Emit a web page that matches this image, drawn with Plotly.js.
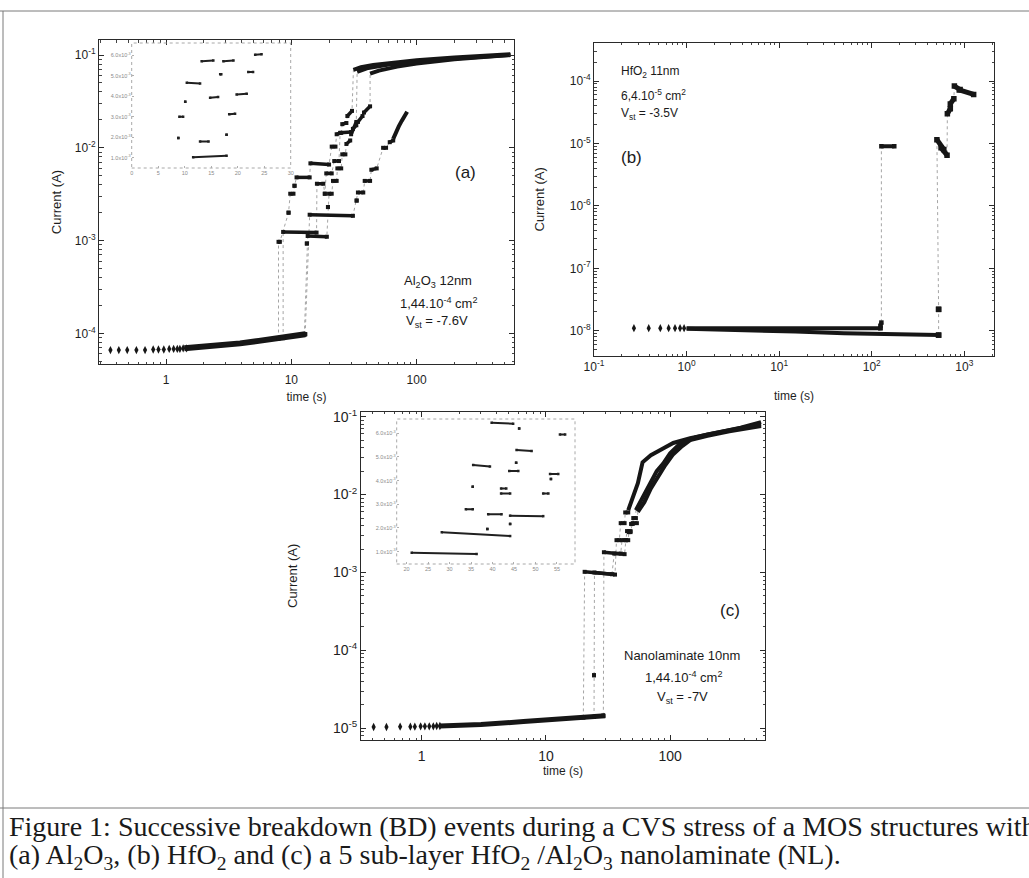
<!DOCTYPE html>
<html><head><meta charset="utf-8">
<script src="https://cdn.plot.ly/plotly-3.0.1.min.js"></script>
<style>html,body{margin:0;padding:0;background:#fff;}#chart{width:1029px;height:878px;}</style>
</head><body><div id="chart"></div>
<script>
// ---------------- Panel (a): Al2O3 12nm ----------------
const aBeadT = [0.36, 0.42, 0.49, 0.58, 0.68, 0.79, 0.87, 0.96, 1.06, 1.15, 1.23, 1.29, 1.37, 1.46];
const aBeadI = [6.6e-5, 6.6e-5, 6.6e-5, 6.6e-5, 6.6e-5, 6.7e-5, 6.7e-5, 6.7e-5, 6.8e-5, 6.8e-5, 6.8e-5, 6.8e-5, 6.9e-5, 6.9e-5];
const aBaseT = [1.4, 2.5, 3.9, 5.5, 7.2, 9.5, 12.9];
const aBaseI = [6.9e-5, 7.3e-5, 7.8e-5, 8.3e-5, 8.7e-5, 9.2e-5, 9.8e-5];
// curves: plateau start/end pairs
const a1T = [7.9,7.9, 7.9,8.1, 9.5,9.5, 9.8,10.4, 10.6,10.6, 11.0,14.0, 14.2,20.0, 21.0,22.5, 23.0,25.0, 25.5,27.5, 28.0,30.5];
const a1I = [8.8e-5,8.8e-5, 9.7e-4,9.7e-4, 2.0e-3,2.0e-3, 3.2e-3,3.2e-3, 3.9e-3,3.9e-3, 4.8e-3,4.8e-3, 6.8e-3,6.6e-3, 1.03e-2,1.03e-2, 1.4e-2,1.45e-2, 1.8e-2,1.85e-2, 2.2e-2,2.5e-2];
const a1TopT = [31.3, 36, 45, 60, 100, 200, 350, 560];
const a1TopI = [6.9e-2, 7.4e-2, 7.8e-2, 8.2e-2, 8.8e-2, 9.4e-2, 9.8e-2, 1.02e-1];
const a2T = [8.6,8.6, 8.6,15.9, 16.0,18.0, 18.5,18.5, 19.0,21.0, 22.0,24.0, 24.5,30.0, 31.0,33.0, 34.0,37.0, 38.0,42.5];
const a2I = [8.9e-5,8.9e-5, 1.24e-3,1.22e-3, 4.1e-3,4.1e-3, 3.2e-3,3.2e-3, 5.3e-3,5.3e-3, 7.2e-3,7.2e-3, 1.45e-2,1.48e-2, 1.6e-2,1.75e-2, 1.9e-2,2.2e-2, 2.4e-2,2.8e-2];
const a2TopT = [42.5, 50, 70, 100, 200, 350, 560];
const a2TopI = [6.3e-2, 6.8e-2, 7.5e-2, 8.1e-2, 9.0e-2, 9.6e-2, 1.0e-1];
const a3T = [12.7,12.7, 13.3,13.3, 13.5,19.2, 19.6,19.6, 20.0,21.0, 21.5,23.0, 23.3,25.0, 25.5,27.0, 27.5,29.5, 30.0,33.0];
const a3I = [9.7e-5,9.7e-5, 9.3e-4,9.3e-4, 1.12e-3,1.1e-3, 2.3e-3,2.3e-3, 3.2e-3,3.2e-3, 4.4e-3,4.4e-3, 6.0e-3,6.0e-3, 8.5e-3,8.5e-3, 1.1e-2,1.2e-2, 1.4e-2,1.9e-2];
const a3TopT = [33.5, 40, 60, 100, 200, 560];
const a3TopI = [6.6e-2, 7.2e-2, 7.9e-2, 8.5e-2, 9.2e-2, 1.0e-1];
const a4T = [12.9,12.9, 14.0,31.0, 33.2,33.2, 34.0,37.5, 38.5,42.5, 43.5,48.0, 54.0,57.0, 61.0,65.0];
const a4I = [9.8e-5,9.8e-5, 1.9e-3,1.85e-3, 2.7e-3,2.7e-3, 3.3e-3,3.3e-3, 4.4e-3,4.4e-3, 5.8e-3,6.0e-3, 1.0e-2,1.0e-2, 1.15e-2,1.2e-2];
const a4TopT = [65, 68, 72, 76, 80, 84];
const a4TopI = [1.25e-2, 1.45e-2, 1.7e-2, 1.95e-2, 2.2e-2, 2.45e-2];
// inset (a): linear zoom, plateau pairs
const iaT = [11.6,17.9, 12.9,14.5, 8.8,8.8, 9.0,9.7, 10.1,10.1, 10.4,12.9, 13.2,15.4, 14.8,16.3, 16.7,16.9, 17.3,19.2, 17.9,17.9, 18.4,19.5, 19.8,21.7, 22.0,22.9, 23.3,24.5];
const iaI = [1.03e-3,1.1e-3, 1.79e-3,1.79e-3, 1.96e-3,1.96e-3, 3.0e-3,3.0e-3, 3.73e-3,3.73e-3, 4.66e-3,4.62e-3, 5.71e-3,5.75e-3, 3.93e-3,3.97e-3, 5.08e-3,5.08e-3, 5.71e-3,5.75e-3, 2.12e-3,2.12e-3, 3.12e-3,3.15e-3, 4.09e-3,4.12e-3, 5.19e-3,5.19e-3, 6.03e-3,6.05e-3];

// ---------------- Panel (b): HfO2 11nm ----------------
const bBeadT = [0.27, 0.39, 0.52, 0.64, 0.75, 0.85, 0.94];
const bBeadI = [1.1e-8, 1.1e-8, 1.1e-8, 1.1e-8, 1.1e-8, 1.1e-8, 1.1e-8];
const b1BaseT = [1.0, 5, 20, 60, 124];
const b1BaseI = [1.1e-8, 1.1e-8, 1.1e-8, 1.1e-8, 1.1e-8];
const b2BaseT = [1.0, 4, 15, 50, 150, 527];
const b2BaseI = [1.08e-8, 1.03e-8, 9.7e-9, 9.1e-9, 8.7e-9, 8.5e-9];
const b1T = [124,124, 124,127, 127,175];
const b1I = [1.1e-8,1.1e-8, 1.2e-8,1.35e-8, 9.0e-6,9.0e-6];
const b2T = [527,527, 527,527, 505,600, 560,650, 655,705, 705,770, 780,900, 880,1260];
const b2I = [8.5e-9,8.5e-9, 2.2e-8,2.2e-8, 1.15e-5,8.0e-6, 8.5e-6,6.5e-6, 3.0e-5,3.6e-5, 4.3e-5,5.2e-5, 8.3e-5,7.3e-5, 7.2e-5,6.1e-5];

// ---------------- Panel (c): nanolaminate 10nm ----------------
const cBeadT = [0.41, 0.52, 0.67, 0.81, 0.88, 0.98, 1.06, 1.15, 1.24, 1.32, 1.40];
const cBeadI = [1.04e-5, 1.04e-5, 1.05e-5, 1.05e-5, 1.05e-5, 1.06e-5, 1.06e-5, 1.06e-5, 1.06e-5, 1.07e-5, 1.07e-5];
const cBaseT = [1.4, 3.0, 6.6, 12, 20, 30];
const cBaseI = [1.07e-5, 1.12e-5, 1.22e-5, 1.3e-5, 1.38e-5, 1.45e-5];
const c1T = [20.0,20.0, 20.5,36.0, 37.0,39.0, 40.0,43.0, 43.5,46.0];
const c1I = [1.38e-5,1.38e-5, 1.02e-3,9.4e-4, 2.6e-3,2.6e-3, 4.3e-3,4.3e-3, 5.9e-3,5.9e-3];
const c1TopT = [46, 50, 55, 60, 70, 90, 106, 145, 200, 270, 370, 540];
const c1TopI = [6.3e-3, 9.4e-3, 1.4e-2, 2.6e-2, 3.2e-2, 4.0e-2, 4.6e-2, 5.3e-2, 5.9e-2, 6.5e-2, 7.2e-2, 8.5e-2];
const c2T = [24.4,24.4, 24.4,24.4, 24.6,34.0, 35.5,40.0, 41.0,44.0, 45.0,48.0, 50.0,54.0];
const c2I = [1.4e-5,1.4e-5, 4.8e-5,4.8e-5, 1.0e-3,9.5e-4, 1.75e-3,1.75e-3, 2.6e-3,2.6e-3, 3.4e-3,3.4e-3, 4.3e-3,4.3e-3];
const c2TopT = [55, 62, 70, 80, 90, 106, 125, 145, 200, 300, 540];
const c2TopI = [6.0e-3, 8.0e-3, 1.2e-2, 1.7e-2, 2.3e-2, 3.3e-2, 4.2e-2, 5.0e-2, 5.7e-2, 6.5e-2, 7.6e-2];
const c3T = [29.0,29.0, 29.3,43.0, 44.0,46.0, 46.5,48.0, 48.5,50.0, 50.5,53.0];
const c3I = [1.45e-5,1.45e-5, 1.82e-3,1.72e-3, 2.6e-3,2.6e-3, 3.3e-3,3.3e-3, 4.2e-3,4.2e-3, 5.0e-3,5.0e-3];
const c3TopT = [53, 61, 69, 78, 88, 100, 120, 160, 200, 300, 540];
const c3TopI = [6.3e-3, 9.4e-3, 1.4e-2, 2.0e-2, 2.5e-2, 3.4e-2, 4.5e-2, 5.4e-2, 5.9e-2, 6.7e-2, 8.0e-2];
// inset (c)
const icT = [21.2,36.3, 28.2,44.1, 33.8,35.4, 39.0,42.1, 44.1,51.8, 42.0,43.2, 42.0,44.1, 51.8,53.0, 35.5,39.4, 43.9,46.0, 53.4,55.3, 45.6,49.1, 55.7,56.9, 39.8,44.8, 35.4,35.4, 38.8,38.8, 46.2,46.2, 45.5,45.5, 53.6,53.6, 44.1,44.1];
const icI = [0.95e-3,0.9e-3, 1.82e-3,1.66e-3, 2.79e-3,2.79e-3, 2.58e-3,2.58e-3, 2.52e-3,2.5e-3, 3.67e-3,3.67e-3, 3.46e-3,3.46e-3, 3.46e-3,3.46e-3, 4.66e-3,4.6e-3, 4.4e-3,4.4e-3, 4.28e-3,4.28e-3, 5.29e-3,5.25e-3, 5.95e-3,5.95e-3, 6.44e-3,6.4e-3, 3.74e-3,3.74e-3, 1.96e-3,1.96e-3, 6.2e-3,6.2e-3, 4.75e-3,4.75e-3, 4.07e-3,4.07e-3, 2.17e-3,2.17e-3];

// ---------------- Tick labels ----------------
const abcTimeVals = [1, 10, 100];
const abcTimeText = ['1', '10', '100'];
const aCurVals = [1e-4, 1e-3, 1e-2, 1e-1];
const aCurText = ['10<sup>-4</sup>', '10<sup>-3</sup>', '10<sup>-2</sup>', '10<sup>-1</sup>'];
const bTimeVals = [0.1, 1, 10, 100, 1000];
const bTimeText = ['10<sup>-1</sup>', '10<sup>0</sup>', '10<sup>1</sup>', '10<sup>2</sup>', '10<sup>3</sup>'];
const bCurVals = [1e-8, 1e-7, 1e-6, 1e-5, 1e-4];
const bCurText = ['10<sup>-8</sup>', '10<sup>-7</sup>', '10<sup>-6</sup>', '10<sup>-5</sup>', '10<sup>-4</sup>'];
const cCurVals = [1e-5, 1e-4, 1e-3, 1e-2, 1e-1];
const cCurText = ['10<sup>-5</sup>', '10<sup>-4</sup>', '10<sup>-3</sup>', '10<sup>-2</sup>', '10<sup>-1</sup>'];
const insetCurVals = [1e-3, 2e-3, 3e-3, 4e-3, 5e-3, 6e-3];
const insetCurText = ['1.0x10<sup>-3</sup>', '2.0x10<sup>-3</sup>', '3.0x10<sup>-3</sup>', '4.0x10<sup>-3</sup>', '5.0x10<sup>-3</sup>', '6.0x10<sup>-3</sup>'];
const iaTimeVals = [0, 5, 10, 15, 20, 25, 30];
const icTimeVals = [20, 25, 30, 35, 40, 45, 50, 55];

// ---------------- builders ----------------
const INK = '#161616';
const SANS = 'Liberation Sans, Arial, Helvetica, sans-serif';
const SERIF = 'Liberation Serif, Times New Roman, serif';
const W = 1029, H = 878;
const px = v => v / W, py = v => 1 - v / H;

function minorLog(lo, hi) { const v = []; for (let e = lo; e < hi; e++) for (let d = 2; d <= 9; d++) v.push(d * Math.pow(10, e)); return v; }
function pairs(T, I) { const x = [], y = []; for (let k = 0; k < T.length; k += 2) { x.push(T[k], T[k + 1], null); y.push(I[k], I[k + 1], null); } return { x, y }; }

const connectors = [], marks = [];
function curve(T, I, topT, topI, xa, ya, w, tw) {
  connectors.push({ x: T.concat(topT || []), y: I.concat(topI || []), xaxis: xa, yaxis: ya, mode: 'lines', line: { color: '#a5a5a5', width: 1, dash: 'dot' }, hoverinfo: 'skip' });
  const p = pairs(T, I);
  marks.push({ x: p.x, y: p.y, xaxis: xa, yaxis: ya, mode: 'lines+markers', connectgaps: false, line: { color: INK, width: w }, marker: { color: INK, size: w + 0.5, symbol: 'square' }, hoverinfo: 'skip' });
  if (topT) marks.push({ x: topT, y: topI, xaxis: xa, yaxis: ya, mode: 'lines', line: { color: INK, width: tw }, hoverinfo: 'skip' });
}
function band(T, I, xa, ya, w) { marks.push({ x: T, y: I, xaxis: xa, yaxis: ya, mode: 'lines', line: { color: INK, width: w }, hoverinfo: 'skip' }); }
function beads(T, I, xa, ya) { marks.push({ x: T, y: I, xaxis: xa, yaxis: ya, mode: 'markers', marker: { color: INK, size: 6, symbol: 'diamond-tall' }, hoverinfo: 'skip' }); }
function insetMarks(T, I, xa, ya) { const p = pairs(T, I); marks.push({ x: p.x, y: p.y, xaxis: xa, yaxis: ya, mode: 'lines+markers', connectgaps: false, line: { color: '#202020', width: 2 }, marker: { color: '#202020', size: 2.5, symbol: 'square' }, hoverinfo: 'skip' }); }

// panel a
beads(aBeadT, aBeadI, 'x', 'y'); band(aBaseT, aBaseI, 'x', 'y', 6);
curve(a1T, a1I, a1TopT, a1TopI, 'x', 'y', 3.5, 4);
curve(a2T, a2I, a2TopT, a2TopI, 'x', 'y', 3.5, 4);
curve(a3T, a3I, a3TopT, a3TopI, 'x', 'y', 3.5, 4);
curve(a4T, a4I, a4TopT, a4TopI, 'x', 'y', 3.5, 4);
insetMarks(iaT, iaI, 'x4', 'y4');
// panel b
beads(bBeadT, bBeadI, 'x2', 'y2'); band(b1BaseT, b1BaseI, 'x2', 'y2', 4); band(b2BaseT, b2BaseI, 'x2', 'y2', 4);
curve(b1T, b1I, null, null, 'x2', 'y2', 4, 4);
curve(b2T, b2I, null, null, 'x2', 'y2', 5, 5);
// panel c
beads(cBeadT, cBeadI, 'x3', 'y3'); band(cBaseT, cBaseI, 'x3', 'y3', 5);
curve(c1T, c1I, c1TopT, c1TopI, 'x3', 'y3', 3.5, 4);
curve(c2T, c2I, c2TopT, c2TopI, 'x3', 'y3', 3.5, 4);
curve(c3T, c3I, c3TopT, c3TopI, 'x3', 'y3', 3.5, 4);
insetMarks(icT, icI, 'x5', 'y5');

function logAxis(o) {
  return {
    type: 'log', domain: o.domain, range: o.range, anchor: o.anchor,
    showline: true, linecolor: '#2a2a2a', linewidth: 1, mirror: 'allticks',
    ticks: 'inside', ticklen: 5, tickwidth: 1, tickcolor: '#2a2a2a',
    tickmode: 'array', tickvals: o.vals, ticktext: o.text, ticklabelstandoff: o.lstand || 0,
    tickfont: { family: SANS, size: o.fs, color: '#1e1e1e' },
    minor: { tickmode: 'array', tickvals: o.minor, ticks: 'inside', ticklen: 2.5, tickwidth: 1, tickcolor: '#444', showgrid: false },
    showgrid: false, zeroline: false, fixedrange: true,
    title: { text: o.title, font: { family: SANS, size: o.tfs, color: '#1e1e1e' }, standoff: o.standoff }
  };
}
function linAxis(o) {
  return {
    type: 'linear', domain: o.domain, range: o.range, anchor: o.anchor,
    showline: false, ticks: 'inside', ticklen: 2, tickwidth: 1, tickcolor: '#b0b0b0',
    tickmode: 'array', tickvals: o.vals, ticktext: o.text,
    tickfont: { family: SANS, size: 5.5, color: '#8a8a8a' },
    showgrid: false, zeroline: false, fixedrange: true
  };
}

const layout = {
  width: W, height: H, margin: { l: 0, r: 0, t: 0, b: 0 }, autosize: false,
  paper_bgcolor: '#fff', plot_bgcolor: 'rgba(0,0,0,0)', showlegend: false, hovermode: false,
  xaxis: logAxis({ domain: [px(99), px(514)], range: [-0.535, 2.777], anchor: 'y', vals: abcTimeVals, text: abcTimeText, fs: 12, minor: minorLog(-1, 3), title: 'time (s)', tfs: 12, standoff: 6, lstand: 5 }),
  yaxis: logAxis({ domain: [py(364), py(40)], range: [-4.33, -0.838], anchor: 'x', vals: aCurVals, text: aCurText, fs: 12, minor: minorLog(-5, 0), title: 'Current (A)', tfs: 13, standoff: 10 }),
  xaxis2: logAxis({ domain: [px(594), px(994)], range: [-1, 3.32], anchor: 'y2', vals: bTimeVals, text: bTimeText, fs: 12, minor: minorLog(-1, 4), title: 'time (s)', tfs: 12, standoff: 18 }),
  yaxis2: logAxis({ domain: [py(356), py(42.7)], range: [-8.405, -3.386], anchor: 'x2', vals: bCurVals, text: bCurText, fs: 12, minor: minorLog(-9, -3), title: 'Current (A)', tfs: 13, standoff: 22 }),
  xaxis3: logAxis({ domain: [px(361), px(765)], range: [-0.489, 2.764], anchor: 'y3', vals: abcTimeVals, text: abcTimeText, fs: 14, minor: minorLog(-1, 3), title: 'time (s)', tfs: 12, standoff: 3, lstand: 3 }),
  yaxis3: logAxis({ domain: [py(740), py(411.7)], range: [-5.15, -0.936], anchor: 'x3', vals: cCurVals, text: cCurText, fs: 14, minor: minorLog(-6, 0), title: 'Current (A)', tfs: 13, standoff: 32 }),
  xaxis4: linAxis({ domain: [px(131.7), px(290.7)], range: [0, 30], anchor: 'y4', vals: iaTimeVals, text: iaTimeVals.map(String) }),
  yaxis4: linAxis({ domain: [py(168), py(43)], range: [0.5e-3, 6.6e-3], anchor: 'x4', vals: insetCurVals, text: insetCurText }),
  xaxis5: linAxis({ domain: [px(396.7), px(575)], range: [17.7, 59.2], anchor: 'y5', vals: icTimeVals, text: icTimeVals.map(String) }),
  yaxis5: linAxis({ domain: [py(564), py(419)], range: [0.48e-3, 6.6e-3], anchor: 'x5', vals: insetCurVals, text: insetCurText }),
  shapes: [
    { type: 'rect', xref: 'x4 domain', yref: 'y4 domain', x0: 0, x1: 1, y0: 0, y1: 1, line: { color: '#a8a8a8', width: 1, dash: 'dot' } },
    { type: 'rect', xref: 'x5 domain', yref: 'y5 domain', x0: 0, x1: 1, y0: 0, y1: 1, line: { color: '#a8a8a8', width: 1, dash: 'dot' } },
    { type: 'line', xref: 'paper', yref: 'paper', x0: 0, x1: 1, y0: py(11), y1: py(11), line: { color: '#7a7a7a', width: 1 } },
    { type: 'line', xref: 'paper', yref: 'paper', x0: px(3), x1: px(3), y0: 0, y1: py(11), line: { color: '#7a7a7a', width: 1 } },
    { type: 'line', xref: 'paper', yref: 'paper', x0: 0, x1: 1, y0: py(808), y1: py(808), line: { color: '#7a7a7a', width: 1 } }
  ],
  annotations: []
};

function note(text, x, y, size, xanchor, font) {
  layout.annotations.push({ text, x: px(x), y: py(y), xref: 'paper', yref: 'paper', xanchor: xanchor || 'center', yanchor: 'middle', showarrow: false, font: { family: font || SANS, size, color: '#1a1a1a' } });
}
note('(a)', 465, 172, 17);
note('Al<sub>2</sub>O<sub>3</sub> 12nm', 438, 281, 13);
note('1,44.10<sup>-4</sup> cm<sup>2</sup>', 438, 303, 13);
note('V<sub>st</sub> = -7.6V', 437, 322, 13);
note('HfO<sub>2</sub> 11nm', 619, 72, 12, 'left');
note('6,4.10<sup>-5</sup> cm<sup>2</sup>', 619, 95, 12, 'left');
note('V<sub>st</sub> = -3.5V', 619, 114, 12, 'left');
note('(b)', 619, 157, 17, 'left');
note('(c)', 730, 610, 17);
note('Nanolaminate 10nm', 682, 655, 13);
note('1,44.10<sup>-4</sup> cm<sup>2</sup>', 683, 677, 13);
note('V<sub>st</sub> = -7V', 682, 697, 13);
note('Figure 1: Successive breakdown (BD) events during a CVS stress of a MOS structures with', 7, 826, 28, 'left', SERIF);
note('(a) Al<sub>2</sub>O<sub>3</sub>, (b) HfO<sub>2</sub> and (c) a 5 sub-layer HfO<sub>2</sub> /Al<sub>2</sub>O<sub>3</sub> nanolaminate (NL).', 7, 856, 28, 'left', SERIF);

Plotly.newPlot('chart', connectors.concat(marks), layout, { staticPlot: true, displayModeBar: false });
</script></body></html>
